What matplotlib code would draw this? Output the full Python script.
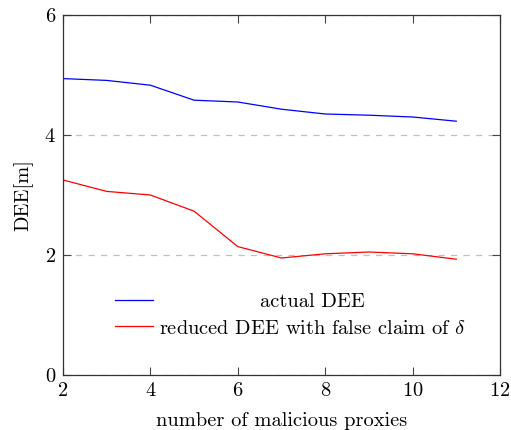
import matplotlib
matplotlib.use("Agg")
import matplotlib.pyplot as plt
import matplotlib.transforms as mtransforms

plt.rcParams['font.family'] = 'serif'
plt.rcParams['font.serif'] = ['cmr10']
plt.rcParams['mathtext.fontset'] = 'cm'
plt.rcParams['axes.formatter.use_mathtext'] = True
plt.rcParams['axes.unicode_minus'] = False

x = [2, 3, 4, 5, 6, 7, 8, 9, 10, 11]
actual_dee = [4.94, 4.91, 4.83, 4.58, 4.55, 4.43, 4.35, 4.33, 4.30, 4.23]
reduced_dee = [3.25, 3.06, 3.00, 2.73, 2.14, 1.95, 2.02, 2.05, 2.02, 1.93]
labels = ["actual DEE", r"reduced DEE with false claim of $\delta$"]

FS = 14.7
fig = plt.figure(figsize=(5.11, 4.30), dpi=100)
ax = fig.add_axes([63/511, 1-375/430, 437/511, 360/430])

ax.plot(x, actual_dee, color='#0000ff', lw=0.9, label=labels[0])
ax.plot(x, reduced_dee, color='#ff0000', lw=0.9, label=labels[1])

ax.set_xlim(2, 12)
ax.set_ylim(0, 6)
ax.set_xticks([2, 4, 6, 8, 10, 12])
ax.set_yticks([0, 2, 4, 6])
ax.yaxis.grid(True, linestyle=(0, (5, 5)), color='#c0c0c0', lw=0.9)
ax.set_axisbelow(True)
ax.tick_params(direction='in', top=True, right=True, length=6, width=0.8,
               color='#444444', labelsize=FS, pad=5)
for s in ax.spines.values():
    s.set_color('#333333')
    s.set_linewidth(0.9)

ax.set_xlabel("number of malicious proxies", fontsize=FS, labelpad=9)
ax.set_ylabel("DEE[m]", fontsize=FS, labelpad=8)

leg = ax.legend(loc='lower left', bbox_to_anchor=(0.077, 0.053), frameon=False,
                fontsize=FS, handlelength=1.85, handletextpad=0.3, labelspacing=0.4)

fig.canvas.draw()
r = fig.canvas.get_renderer()
t0, t1 = leg.texts
b0 = t0.get_window_extent(r)
b1 = t1.get_window_extent(r)
dx = (b1.x0 + b1.width / 2) - (b0.x0 + b0.width / 2)
t0.set_transform(t0.get_transform() + mtransforms.Affine2D().translate(dx, 0))

fig.savefig("out.png", dpi=100)
